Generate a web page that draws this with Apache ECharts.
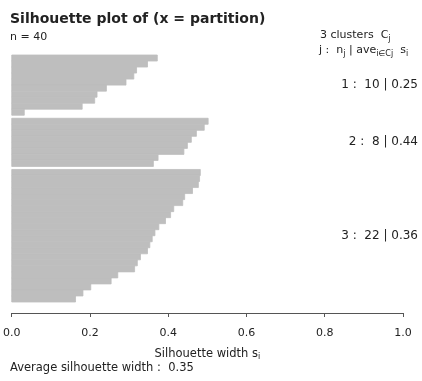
<!DOCTYPE html>
<html>
<head>
<meta charset="utf-8">
<script src="https://cdn.jsdelivr.net/npm/echarts@6/dist/echarts.min.js"></script>
<style>
  html, body { margin: 0; padding: 0; background: #fff; }
  #chart { width: 422px; height: 381px; }
</style>
</head>
<body>
<div id="chart"></div>
<script>
// silhouette widths per cluster, sorted descending (as in R's plot.silhouette)
const cluster1 = [0.372, 0.347, 0.319, 0.312, 0.292, 0.242, 0.218, 0.212, 0.18, 0.032];
const cluster2 = [0.502, 0.492, 0.472, 0.459, 0.449, 0.44, 0.374, 0.362];
const cluster3 = [0.482, 0.48, 0.477, 0.462, 0.442, 0.437, 0.414, 0.406, 0.393, 0.376, 0.366,
                  0.359, 0.353, 0.347, 0.329, 0.321, 0.314, 0.271, 0.254, 0.202, 0.182, 0.163];
const clusterIds = [1, 2, 3];
const clusterSizes = [10, 8, 22];
const clusterAvg = ["0.25", "0.44", "0.36"];
const avgWidth = "0.35";
const nObs = 40;
const xTicks = [0, 0.2, 0.4, 0.6, 0.8, 1.0];

const FONT = "DejaVu Sans";
const INK = "#222";
const BAR = "#bebebe";
const GAP = 0.5; // space between clusters, in bar units

// lay the bars out top-down, with a half-bar gap between clusters
const clusters = [cluster1, cluster2, cluster3];
const barData = [];
const labelData = [];
let pos = 0;
clusters.forEach((vals, k) => {
  if (k > 0) pos += GAP;
  const start = pos;
  vals.forEach((v) => {
    barData.push([v, pos]);
    pos += 1;
  });
  labelData.push([1, (start + pos) / 2, k]);
});
const yMax = pos;

const chart = echarts.init(document.getElementById("chart"), null, { renderer: "canvas" });

const sub = { fontFamily: FONT, fontSize: 8, color: INK, padding: [6, 0, 0, 0] };

chart.setOption({
  backgroundColor: "#fff",
  animation: false,
  textStyle: { fontFamily: FONT },
  grid: { left: 11, right: 19, top: 55, bottom: 79 },
  xAxis: {
    type: "value",
    position: "bottom",
    min: 0,
    max: 1,
    interval: 0.2,
    offset: 11,
    name: "Silhouette width s{s|i}",
    nameLocation: "middle",
    nameGap: 34,
    nameTextStyle: {
      fontFamily: FONT, fontSize: 11.5, color: INK,
      rich: { s: { fontFamily: FONT, fontSize: 8, color: INK, padding: [6, 0, 0, 0] } }
    },
    axisLine: { show: true, onZero: false, lineStyle: { color: "#555", width: 1 } },
    axisTick: { show: true, length: 4, lineStyle: { color: "#555" } },
    axisLabel: {
      fontFamily: FONT, fontSize: 11, color: INK, margin: 15,
      formatter: (v) => (xTicks.includes(+v.toFixed(1)) ? v.toFixed(1) : "")
    },
    splitLine: { show: false }
  },
  yAxis: {
    type: "value",
    min: 0,
    max: yMax,
    inverse: true,
    show: false
  },
  series: [
    {
      type: "custom",
      data: barData,
      renderItem: (params, api) => {
        const s = api.value(0);
        const y0 = api.value(1);
        const a = api.coord([0, y0]);
        const b = api.coord([s, y0 + 1]);
        return {
          type: "rect",
          shape: { x: a[0], y: Math.min(a[1], b[1]), width: b[0] - a[0], height: Math.abs(b[1] - a[1]) },
          style: { fill: BAR, stroke: BAR, lineWidth: 0.8 }
        };
      }
    },
    {
      type: "custom",
      data: labelData,
      clip: false,
      renderItem: (params, api) => {
        const p = api.coord([api.value(0), api.value(1)]);
        const k = api.value(2);
        return {
          type: "text",
          x: 418,
          y: p[1],
          style: {
            text: clusterIds[k] + " :  " + clusterSizes[k] + " | " + clusterAvg[k],
            font: "12px '" + FONT + "'",
            fill: INK,
            align: "right",
            verticalAlign: "middle"
          }
        };
      }
    }
  ],
  graphic: [
    {
      type: "text", left: 10, top: 12,
      style: { text: "Silhouette plot of (x = partition)", font: "bold 14px '" + FONT + "'", fill: INK }
    },
    {
      type: "text", left: 10, top: 32,
      style: { text: "n = " + nObs, font: "11px '" + FONT + "'", fill: INK }
    },
    {
      type: "text", left: 320, top: 30,
      style: {
        text: clusters.length + " clusters  C{s|j}",
        font: "11px '" + FONT + "'", fill: INK,
        rich: { s: sub }
      }
    },
    {
      type: "text", left: 319, top: 45,
      style: {
        text: "j :  n{s|j} | ave{s|i∈Cj}  s{s|i}",
        font: "11px '" + FONT + "'", fill: INK,
        rich: { s: sub }
      }
    },
    {
      type: "text", left: 10, top: 362,
      style: { text: "Average silhouette width :  " + avgWidth, font: "11.5px '" + FONT + "'", fill: INK }
    }
  ]
});
</script>
</body>
</html>
